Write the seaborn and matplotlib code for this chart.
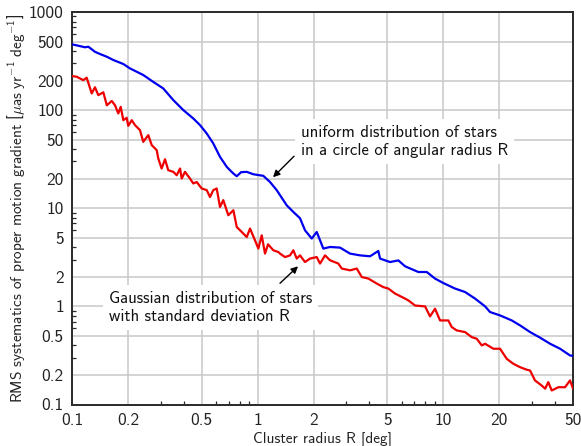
import numpy as np
import pandas as pd
import matplotlib
matplotlib.use("Agg")
import matplotlib.pyplot as plt
import seaborn as sns
from matplotlib.ticker import FixedLocator, FuncFormatter, NullFormatter, LogLocator

# ---------------- data ----------------
uniform_R = [0.100, 0.106, 0.1175, 0.1224, 0.133, 0.1416, 0.154, 0.167, 0.189, 0.2054,
             0.2232, 0.242, 0.274, 0.310, 0.3514, 0.398, 0.450, 0.4895, 0.532, 0.577,
             0.627, 0.682, 0.710, 0.740, 0.772, 0.814, 0.874, 0.948, 1.073, 1.166,
             1.267, 1.435, 1.557, 1.692, 1.800, 1.957, 2.082, 2.259, 2.455, 2.780,
             3.147, 3.562, 4.033, 4.469, 4.567, 5.169, 5.73, 6.23, 7.34, 8.15,
             9.03, 10.0, 11.57, 13.11, 14.84, 16.80, 17.87, 20.23, 23.39, 25.93,
             29.36, 33.23, 37.63, 42.6, 48.2, 50.0]
uniform_rms = [468, 457, 437, 443, 393, 373, 350, 324, 295, 266,
               246, 228, 194, 166.5, 126.5, 100, 82.3, 70.3, 57.8, 45.7,
               33.4, 26.4, 24.4, 22.6, 21.2, 23.3, 23.5, 22.2, 21.4, 18.5,
               15.3, 10.7, 9.17, 7.91, 5.96, 4.91, 5.73, 3.88, 4.03, 3.97,
               3.45, 3.31, 3.24, 3.67, 3.07, 2.83, 2.94, 2.56, 2.24, 2.24,
               1.92, 1.73, 1.52, 1.40, 1.20, 1.00, 0.875, 0.809, 0.719, 0.640,
               0.547, 0.480, 0.416, 0.370, 0.316, 0.313]

gauss_R = [0.100, 0.106, 0.115, 0.120, 0.1277, 0.133, 0.1386, 0.1475, 0.154, 0.1637,
           0.1705, 0.1776, 0.183, 0.189, 0.197, 0.201, 0.2098, 0.2185, 0.2325, 0.242,
           0.2577, 0.2688, 0.286, 0.2917, 0.304, 0.317, 0.330, 0.3514, 0.3665, 0.382,
           0.390, 0.406, 0.432, 0.450, 0.470, 0.4997, 0.532, 0.554, 0.577, 0.602,
           0.627, 0.653, 0.695, 0.740, 0.772, 0.821, 0.874, 0.910, 0.968, 1.009,
           1.052, 1.096, 1.138, 1.215, 1.293, 1.320, 1.405, 1.495, 1.557, 1.624,
           1.692, 1.800, 1.915, 2.082, 2.169, 2.307, 2.455, 2.722, 2.839, 3.147,
           3.42, 3.64, 3.95, 4.38, 4.76, 5.06, 5.50, 6.23, 6.49, 7.05,
           7.98, 8.49, 9.03, 9.61, 10.65, 11.11, 11.82, 13.11, 14.24, 15.15,
           16.12, 16.80, 18.62, 20.23, 21.98, 23.86, 25.93, 28.2, 29.36, 31.2,
           33.9, 35.4, 36.8, 38.4, 41.7, 45.3, 48.2, 50.0]
gauss_rms = [222, 219, 202, 214, 148, 171, 142, 152, 112, 124,
             112, 92.5, 108, 79, 83.5, 69.2, 79, 70.3, 62.5, 47.5,
             55.6, 44, 39.1, 32.1, 25.4, 31.6, 24.4, 23.5, 21.7, 25.4,
             20.1, 23.5, 20.1, 17.9, 18.5, 15.9, 15.3, 13.0, 15.3, 15.9,
             10.3, 12.1, 8.49, 9.55, 6.44, 5.73, 5.09, 6.21, 4.71, 3.88,
             5.30, 3.45, 4.29, 3.73, 3.58, 3.45, 3.18, 3.31, 3.73, 3.07,
             3.31, 2.83, 3.07, 3.18, 2.73, 3.31, 2.95, 2.73, 2.43, 2.33,
             2.43, 1.99, 1.92, 1.71, 1.57, 1.52, 1.35, 1.20, 1.15, 1.02,
             1.00, 0.791, 0.947, 0.719, 0.719, 0.615, 0.569, 0.547, 0.486, 0.468,
             0.400, 0.416, 0.370, 0.370, 0.292, 0.260, 0.240, 0.226, 0.222, 0.176,
             0.156, 0.145, 0.169, 0.139, 0.150, 0.150, 0.176, 0.145]

x_ticks = [0.1, 0.2, 0.5, 1, 2, 5, 10, 20, 50]
y_ticks = [0.1, 0.2, 0.5, 1, 2, 5, 10, 20, 50, 100, 200, 500, 1000]

label_uniform = "uniform distribution of stars\nin a circle of angular radius R"
label_gauss = "Gaussian distribution of stars\nwith standard deviation R"
xlabel = "Cluster radius R [deg]"
ylabel = r"RMS systematics of proper motion gradient $\left[\mu\mathrm{as\ yr^{-1}\ deg^{-1}}\right]$"

# ---------------- style ----------------
sns.set_theme(style="whitegrid")
plt.rcParams["font.family"] = ["cmss10", "DejaVu Sans"]
plt.rcParams["mathtext.fontset"] = "custom"
plt.rcParams["mathtext.rm"] = "cmss10"
plt.rcParams["mathtext.it"] = "cmss10:italic"
plt.rcParams["axes.unicode_minus"] = False
plt.rcParams["axes.formatter.use_mathtext"] = False

fig = plt.figure(figsize=(5.81, 4.46), dpi=100)
ax = fig.add_axes([72/581, 1-404.5/446, (573-72)/581, (404.5-12)/446])

df_u = pd.DataFrame({"R": uniform_R, "rms": uniform_rms})
df_g = pd.DataFrame({"R": gauss_R, "rms": gauss_rms})
sns.lineplot(data=df_u, x="R", y="rms", ax=ax, color="#0000ee", lw=1.6, zorder=3)
sns.lineplot(data=df_g, x="R", y="rms", ax=ax, color="#ee0000", lw=1.6, zorder=3)

ax.set_xscale("log")
ax.set_yscale("log")
ax.set_xlim(0.1, 50)
ax.set_ylim(0.1, 1000)

fmt = FuncFormatter(lambda v, p: f"{v:g}")
ax.xaxis.set_major_locator(FixedLocator(x_ticks))
ax.yaxis.set_major_locator(FixedLocator(y_ticks))
ax.xaxis.set_major_formatter(fmt)
ax.yaxis.set_major_formatter(fmt)
ax.xaxis.set_minor_locator(LogLocator(base=10, subs=np.arange(2, 10), numticks=20))
ax.yaxis.set_minor_locator(LogLocator(base=10, subs=np.arange(2, 10), numticks=20))
ax.xaxis.set_minor_formatter(NullFormatter())
ax.yaxis.set_minor_formatter(NullFormatter())

ax.grid(True, which="major", color="#c8c8c8", lw=1.1)
ax.grid(False, which="minor")
ax.set_facecolor("white")
for s in ax.spines.values():
    s.set_color("#2a2a2a")
    s.set_linewidth(1.4)

ax.tick_params(axis="both", which="major", direction="in", length=0, labelsize=12.5,
               labelcolor="#222222", pad=6)
ax.tick_params(axis="both", which="minor", direction="in", length=3, width=0.9,
               color="#2a2a2a", bottom=True, left=True, top=False, right=False)

ax.set_xlabel(xlabel, fontsize=11, color="#222222", labelpad=3)
ax.set_ylabel(ylabel, fontsize=11, color="#222222", labelpad=1)

box = dict(boxstyle="square,pad=0.35", fc="white", ec="none")
ax.text(1.713, 47.7, label_uniform, ha="left", va="center", fontsize=12,
        color="#111111", bbox=box, zorder=5, linespacing=1.25)
ax.text(0.158, 0.977, label_gauss, ha="left", va="center", fontsize=12,
        color="#111111", bbox=box, zorder=5, linespacing=1.25)

arrow = dict(arrowstyle="-|>", color="black", lw=1.0, mutation_scale=10,
             shrinkA=0, shrinkB=0)
ax.annotate("", xy=(1.21, 20.7), xytext=(1.571, 33.9), arrowprops=arrow, zorder=6)
ax.annotate("", xy=(1.651, 2.56), xytext=(1.32, 1.72), arrowprops=arrow, zorder=6)

fig.savefig("out.png", dpi=100)
